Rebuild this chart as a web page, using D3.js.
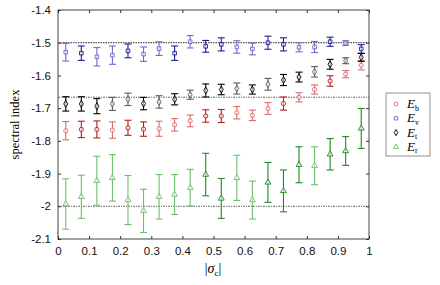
<!DOCTYPE html>
<html lang="en">
<head>
<meta charset="UTF-8">
<title>spectral index</title>
<script src="https://cdn.jsdelivr.net/npm/d3@7"></script>
<style>
  body { margin: 0; background: #fff; }
  text { font-family: "Liberation Sans", Arial, sans-serif; }
</style>
</head>
<body>
<svg width="440" height="285"></svg>
<script>

    // x positions of the bins
    var xs = [0.025, 0.075, 0.125, 0.175, 0.225, 0.275, 0.325, 0.375, 0.425, 0.475,
              0.525, 0.575, 0.625, 0.675, 0.725, 0.775, 0.825, 0.875, 0.925, 0.975];

    // E_b (red circles)
    var eb    = [-1.769, -1.765, -1.765, -1.767, -1.760, -1.764, -1.763, -1.751, -1.739, -1.724,
                 -1.724, -1.714, -1.722, -1.701, -1.686, -1.667, -1.643, -1.617, -1.596, -1.569];
    var ebErr = [0.028, 0.025, 0.026, 0.025, 0.023, 0.022, 0.023, 0.019, 0.018, 0.019,
                 0.020, 0.019, 0.016, 0.018, 0.020, 0.014, 0.014, 0.016, 0.011, 0.014];
    var ebDark = [0,1,1,0,1,1,0,0,0,1, 1,0,0,0,1,0,0,1,0,0];

    // E_v (blue squares)
    var ev    = [-1.529, -1.532, -1.543, -1.538, -1.525, -1.535, -1.518, -1.532, -1.497, -1.511,
                 -1.505, -1.513, -1.519, -1.500, -1.505, -1.514, -1.513, -1.497, -1.501, -1.519];
    var evErr = [0.027, 0.022, 0.028, 0.028, 0.021, 0.022, 0.021, 0.022, 0.019, 0.018,
                 0.020, 0.019, 0.018, 0.020, 0.020, 0.014, 0.017, 0.014, 0.007, 0.013];
    var evDark = [0,1,0,0,1,0,0,1,0,1, 1,0,0,1,1,0,0,1,0,1];

    // E_t (black diamonds)
    var et    = [-1.687, -1.687, -1.694, -1.687, -1.673, -1.686, -1.681, -1.673, -1.659, -1.646,
                 -1.643, -1.640, -1.643, -1.627, -1.614, -1.605, -1.589, -1.566, -1.555, -1.545];
    var etErr = [0.022, 0.022, 0.023, 0.020, 0.019, 0.019, 0.019, 0.017, 0.014, 0.020,
                 0.016, 0.017, 0.014, 0.018, 0.017, 0.015, 0.016, 0.015, 0.009, 0.012];
    var etDark = [1,1,1,0,0,1,0,1,0,1, 1,0,1,0,1,1,0,1,0,1];

    // E_r (green triangles)
    var er    = [-1.993, -1.971, -1.922, -1.913, -1.981, -2.014, -1.971, -1.964, -1.943, -1.903,
                 -1.976, -1.913, -1.981, -1.927, -1.953, -1.873, -1.876, -1.841, -1.831, -1.762];
    var erErr = [0.077, 0.066, 0.075, 0.071, 0.075, 0.066, 0.068, 0.061, 0.056, 0.065,
                 0.061, 0.069, 0.058, 0.061, 0.064, 0.055, 0.058, 0.048, 0.044, 0.061];
    var erDark = [0,0,0,0,0,0,0,0,0,1, 1,0,0,1,1,1,0,1,1,1];

    var xTicks = [0, 0.1, 0.2, 0.3, 0.4, 0.5, 0.6, 0.7, 0.8, 0.9, 1];
    var yTicks = [-1.4, -1.5, -1.6, -1.7, -1.8, -1.9, -2, -2.1];
    var refLines = [-1.5, -5 / 3, -2];

    var series = [
        {name: "b", y: eb, err: ebErr, dark: ebDark, sym: d3.symbolCircle, size: 14, light: "#e06a6a", deep: "#b81c1c"},
        {name: "v", y: ev, err: evErr, dark: evDark, sym: d3.symbolSquare, size: 13, light: "#6a6ad0", deep: "#1c1c96"},
        {name: "t", y: et, err: etErr, dark: etDark, sym: d3.symbolDiamond, size: 14, light: "#5a5a5a", deep: "#000000"},
        {name: "r", y: er, err: erErr, dark: erDark, sym: d3.symbolTriangle, size: 15, light: "#6cc06c", deep: "#1f8a1f"}
    ];

    var svg = d3.select("svg");
    var x = d3.scaleLinear().domain([0, 1]).range([58, 369]);
    var y = d3.scaleLinear().domain([-2.1, -1.4]).range([239, 10]);

    // reference lines
    svg.append("g").selectAll("line")
        .data(refLines)
        .enter().append("line")
        .attr("x1", x(0)).attr("x2", x(1))
        .attr("y1", function(d) { return y(d); })
        .attr("y2", function(d) { return y(d); })
        .attr("stroke", function(d, i) { return i == 0 ? "#111" : "#555"; })
        .attr("stroke-width", 0.9)
        .attr("stroke-dasharray", function(d, i) { return i == 0 ? "1.5,1" : "2,1,1,1"; });

    // error bars + markers
    series.forEach(function(s) {
        var g = svg.append("g");
        var pts = xs.map(function(v, i) {
            return {x: v, y: s.y[i], e: s.err[i], c: s.dark[i] ? s.deep : s.light};
        });
        var bar = g.selectAll("g.bar").data(pts).enter().append("g")
            .attr("stroke", function(d) { return d.c; })
            .attr("stroke-width", 1.1)
            .attr("fill", "none");
        bar.append("line")
            .attr("x1", function(d) { return x(d.x); })
            .attr("x2", function(d) { return x(d.x); })
            .attr("y1", function(d) { return y(d.y - d.e); })
            .attr("y2", function(d) { return y(d.y + d.e); });
        [-1, 1].forEach(function(sgn) {
            bar.append("line")
                .attr("x1", function(d) { return x(d.x) - 3.5; })
                .attr("x2", function(d) { return x(d.x) + 3.5; })
                .attr("y1", function(d) { return y(d.y + sgn * d.e); })
                .attr("y2", function(d) { return y(d.y + sgn * d.e); });
        });
        bar.append("path")
            .attr("d", d3.symbol().type(s.sym).size(s.size))
            .attr("transform", function(d) { return "translate(" + x(d.x) + "," + y(d.y) + ")"; })
            .attr("fill", "#fff")
            .attr("fill-opacity", 0.6)
            .attr("stroke-width", 0.9);
    });

    // frame
    svg.append("rect")
        .attr("x", x(0)).attr("y", y(-1.4))
        .attr("width", x(1) - x(0)).attr("height", y(-2.1) - y(-1.4))
        .attr("fill", "none").attr("stroke", "#444").attr("stroke-width", 1);

    // axes with inward ticks
    var fmt = function(d) { return String(d); };
    var gx = svg.append("g").attr("transform", "translate(0," + y(-2.1) + ")")
        .call(d3.axisBottom(x).tickValues(xTicks).tickFormat(fmt).tickSizeInner(-3).tickSizeOuter(0).tickPadding(8));
    var gxt = svg.append("g").attr("transform", "translate(0," + y(-1.4) + ")")
        .call(d3.axisTop(x).tickValues(xTicks).tickFormat("").tickSizeInner(-3).tickSizeOuter(0));
    var gy = svg.append("g").attr("transform", "translate(" + x(0) + ",0)")
        .call(d3.axisLeft(y).tickValues(yTicks).tickFormat(fmt).tickSizeInner(-3).tickSizeOuter(0).tickPadding(7));
    var gyr = svg.append("g").attr("transform", "translate(" + x(1) + ",0)")
        .call(d3.axisRight(y).tickValues(yTicks).tickFormat("").tickSizeInner(-3).tickSizeOuter(0));
    [gx, gxt, gy, gyr].forEach(function(g) {
        g.select(".domain").remove();
        g.selectAll("line").attr("stroke", "#333");
        g.selectAll("text").attr("font-size", 11.5).attr("fill", "#111")
            .style("font-family", "'Liberation Sans', Arial, sans-serif");
    });

    // axis titles
    svg.append("text")
        .attr("transform", "translate(19," + ((y(-1.4) + y(-2.1)) / 2) + ") rotate(-90)")
        .attr("text-anchor", "middle")
        .style("font-family", "'Liberation Serif', 'Times New Roman', serif")
        .attr("font-size", 12.5)
        .text("spectral index");

    var xl = svg.append("text")
        .attr("x", 213).attr("y", 273)
        .attr("text-anchor", "middle")
        .style("font-family", "'Liberation Serif', 'Times New Roman', serif")
        .attr("font-size", 14);
    xl.append("tspan").text("|");
    xl.append("tspan").attr("font-style", "italic").text("σ");
    xl.append("tspan").attr("font-size", 9).attr("dy", 3).text("c");
    xl.append("tspan").attr("dy", -3).text("|");

    // legend
    var lg = svg.append("g").attr("transform", "translate(386,93)");
    lg.append("rect").attr("width", 44).attr("height", 63)
        .attr("fill", "#fff").attr("stroke", "#777").attr("stroke-width", 0.8);
    var item = lg.selectAll("g.item").data(series).enter().append("g")
        .attr("transform", function(d, i) { return "translate(0," + (11 + i * 14.3) + ")"; });
    item.append("path")
        .attr("d", function(d) { return d3.symbol().type(d.sym).size(11)(); })
        .attr("transform", "translate(10,0)")
        .attr("fill", "none")
        .attr("stroke", function(d) { return d.name == "t" ? "#000" : d.light; })
        .attr("stroke-width", 0.9);
    var lt = item.append("text").attr("x", 21).attr("y", 4)
        .style("font-family", "'Liberation Serif', 'Times New Roman', serif")
        .attr("font-size", 13);
    lt.append("tspan").attr("font-style", "italic").text("E");
    lt.append("tspan").attr("font-size", 8).attr("dy", 2.5).text(function(d) { return d.name; });

</script>
</body>
</html>
